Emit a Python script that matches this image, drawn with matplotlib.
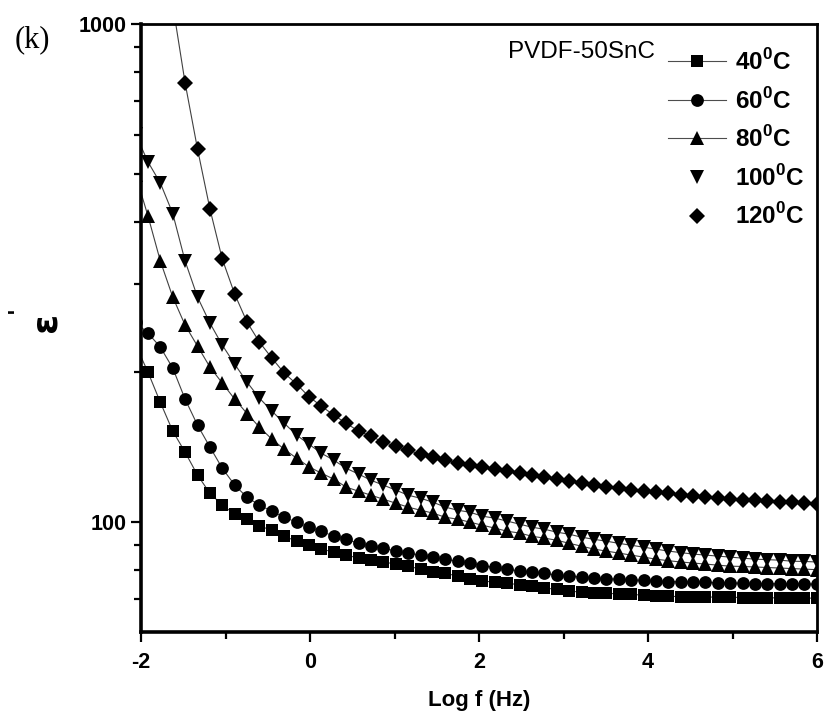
import matplotlib
matplotlib.use("Agg")
import matplotlib.pyplot as plt
import matplotlib.ticker as ticker
from matplotlib.lines import Line2D

plt.rcParams['font.family'] = ['Liberation Sans', 'DejaVu Sans']
plt.rcParams['mathtext.fontset'] = 'custom'
plt.rcParams['mathtext.rm'] = 'Liberation Sans'
plt.rcParams['mathtext.bf'] = 'Liberation Sans:bold'

# log f grid (first point sits just left of the axis, so only its line shows)
log_f = [-2.064, -1.917, -1.771, -1.624, -1.478, -1.331, -1.184, -1.038,
         -0.891, -0.745, -0.598, -0.451, -0.305, -0.158, -0.012, 0.135,
         0.282, 0.428, 0.575, 0.721, 0.868, 1.015, 1.161, 1.308,
         1.454, 1.601, 1.748, 1.894, 2.041, 2.187, 2.334, 2.481,
         2.627, 2.774, 2.920, 3.067, 3.214, 3.360, 3.507, 3.653,
         3.800, 3.947, 4.093, 4.240, 4.386, 4.533, 4.680, 4.826,
         4.973, 5.119, 5.266, 5.413, 5.559, 5.706, 5.852, 5.999]

eps_40 = [227, 200, 174, 152.3, 138.2, 124.3, 114.3, 108.2, 103.8, 101.4, 98.2,
          96.4, 93.7, 91.6, 89.9,
          88.3, 87.1, 85.9, 84.7, 83.9, 83.2, 82.4, 81.6, 80.5, 79.4, 79.0,
          77.9, 76.9, 76.2, 75.8, 75.5, 74.8, 74.4, 73.7, 73.4, 72.7,
          72.4, 72.2, 72.0, 71.8, 71.6, 71.4, 71.2, 71.0,
          70.9, 70.8, 70.8, 70.7, 70.7, 70.6, 70.6, 70.5, 70.5, 70.5, 70.4, 70.4]

eps_60 = [252, 239.6, 224.6, 203.8, 176.6, 156.6, 141.5, 128.3, 118.7, 112.2,
          108.2, 105.2, 102.3, 100, 97.7, 95.9, 93.7, 92.4, 90.7, 89.5, 88.7,
          87.5, 86.7, 85.9, 85.1, 84.3, 83.5, 82.8, 81.6, 81.3, 80.5, 79.8,
          79.4, 79.0, 78.3, 77.9,
          77.6, 77.3, 77.0, 76.8, 76.6, 76.4, 76.2, 76.0, 75.9, 75.8, 75.7,
          75.6, 75.5, 75.4, 75.3, 75.3, 75.2, 75.2, 75.1, 75.1]

eps_80 = [498, 411.6, 334.3, 283.0, 248.6, 225.6, 204.8, 190.2, 176.6, 165.2,
          155.1, 146.8, 140.1, 134.4, 129.2, 125.4, 122.0, 117.6, 115.4, 113.3,
          111.2, 109.2, 107.2, 105.7, 104.3, 102.3, 101.4, 100, 98.6, 97.3,
          95.9, 95.1, 93.7, 92.9, 92.0, 90.7,
          89.5, 88.3, 87.5, 86.7, 85.9, 85.1, 84.3, 83.7, 83.2, 82.8, 82.4,
          82.0, 81.6, 81.5, 81.3, 81.1, 80.9, 80.7, 80.5, 80.3]

eps_100 = [601, 528.5, 479.5, 416.4, 334.3, 283.0, 250.9, 226.7, 207.6, 191.0,
           177.4, 167.1, 158.0, 149.5, 143.4, 137.5, 133.2, 128.3, 124.9, 121.4,
           118.7, 116.0, 113.3, 111.7, 109.7, 107.2, 105.7, 104.7, 102.8, 101.9,
           100.5, 99.1, 97.7, 96.8, 95.5, 94.6,
           93.3, 92.4, 91.6, 90.7, 89.9, 89.1, 88.3, 87.5, 86.9, 86.3, 85.9,
           85.5, 85.1, 84.7, 84.3, 84.1, 83.9, 83.5, 83.4, 83.2]

eps_120 = [3300, 2450, 1620, 1092, 761.4, 561.0, 425.1, 337.4, 286.9, 252.1,
           229.8, 213.5, 199.2, 189.3, 178.6, 171.0, 164.0, 158.0, 152.3, 148.8,
           144.8, 142.1, 139.5, 136.9, 135.1, 133.2, 131.4, 130.5, 129.0, 127.8,
           126.6, 125.4, 124.3, 123.1, 122.0, 120.9,
           119.8, 118.7, 117.9, 117.1, 116.3, 115.4, 114.9, 114.3, 113.5, 113.0,
           112.5, 112.0, 111.4, 110.9, 110.7, 110.2, 109.9, 109.7, 109.2, 108.9]

labels = ['40', '60', '80', '100', '120']
series = [eps_40, eps_60, eps_80, eps_100, eps_120]
markers = ['s', 'o', '^', 'v', 'D']
msizes = [8.6, 9.2, 10.2, 10.2, 8.2]

fig = plt.figure(figsize=(8.25, 7.27), dpi=100)
ax = fig.add_axes([141/825, 95/727, 676/825, 608/727])

for y, m, ms in zip(series, markers, msizes):
    ax.plot(log_f, y, color='0.25', lw=0.8, zorder=2)
    ax.plot(log_f, y, linestyle='none', marker=m, ms=ms, color='black',
            markeredgewidth=0, zorder=3)

ax.set_yscale('log')
ax.set_xlim(-2, 6)
ax.set_ylim(60.2, 1000)

ax.xaxis.set_major_locator(ticker.MultipleLocator(2))
ax.xaxis.set_minor_locator(ticker.MultipleLocator(1))
ax.xaxis.set_major_formatter(ticker.FuncFormatter(lambda v, p: f'{v:g}'))
ax.yaxis.set_major_locator(ticker.FixedLocator([100, 1000]))
ax.yaxis.set_minor_locator(ticker.LogLocator(base=10, subs=range(2, 10)))
ax.yaxis.set_major_formatter(ticker.FuncFormatter(lambda v, p: f'{v:g}'))
ax.yaxis.set_minor_formatter(ticker.NullFormatter())

for side in ['left', 'bottom']:
    ax.spines[side].set_linewidth(2.6)
for side in ['top', 'right']:
    ax.spines[side].set_linewidth(2.0)

ax.tick_params(which='major', direction='out', length=7.5, width=1.6,
               labelsize=15.5)
ax.tick_params(which='minor', direction='out', length=5, width=1.6)
ax.tick_params(axis='x', which='both', pad=7)
ax.tick_params(axis='y', which='both', pad=3)
for lab in ax.get_xticklabels() + ax.get_yticklabels():
    lab.set_fontweight('bold')

ax.set_xlabel('Log f (Hz)', fontsize=16, fontweight='bold', labelpad=12)

fig.text(45.5/825, 1 - 322/727, 'ε', rotation=90, ha='center', va='center',
         fontsize=26, fontweight='bold', family='DejaVu Sans')
fig.text(17/825, 1 - 310/727, "'", rotation=90, ha='center', va='center',
         fontsize=16, fontweight='bold', family='DejaVu Sans')

fig.text(15/825, 1 - 40/727, '(k)', ha='left', va='center', fontsize=22,
         family='Liberation Serif')
fig.text(582/825, 1 - 52/727, 'PVDF-50SnC', ha='center', va='center',
         fontsize=17.5)

handles = []
for i, (m, ms) in enumerate(zip(markers, msizes)):
    ls = '-' if i < 3 else 'none'
    handles.append(Line2D([], [], color='0.3', lw=0.8, linestyle=ls, marker=m,
                          ms=ms, markerfacecolor='black',
                          markeredgecolor='black', markeredgewidth=0))
leg_labels = [lab + r'$^{\mathbf{0}}$C' for lab in labels]
ax.legend(handles, leg_labels, loc='upper left',
          bbox_to_anchor=(668/825, 1 - 49/727), bbox_transform=fig.transFigure,
          frameon=False, borderpad=0, borderaxespad=0, handlelength=2.4,
          handletextpad=0.35, labelspacing=0.52, numpoints=1,
          prop={'size': 17.5, 'weight': 'bold'})

fig.savefig('out.png', dpi=100)
